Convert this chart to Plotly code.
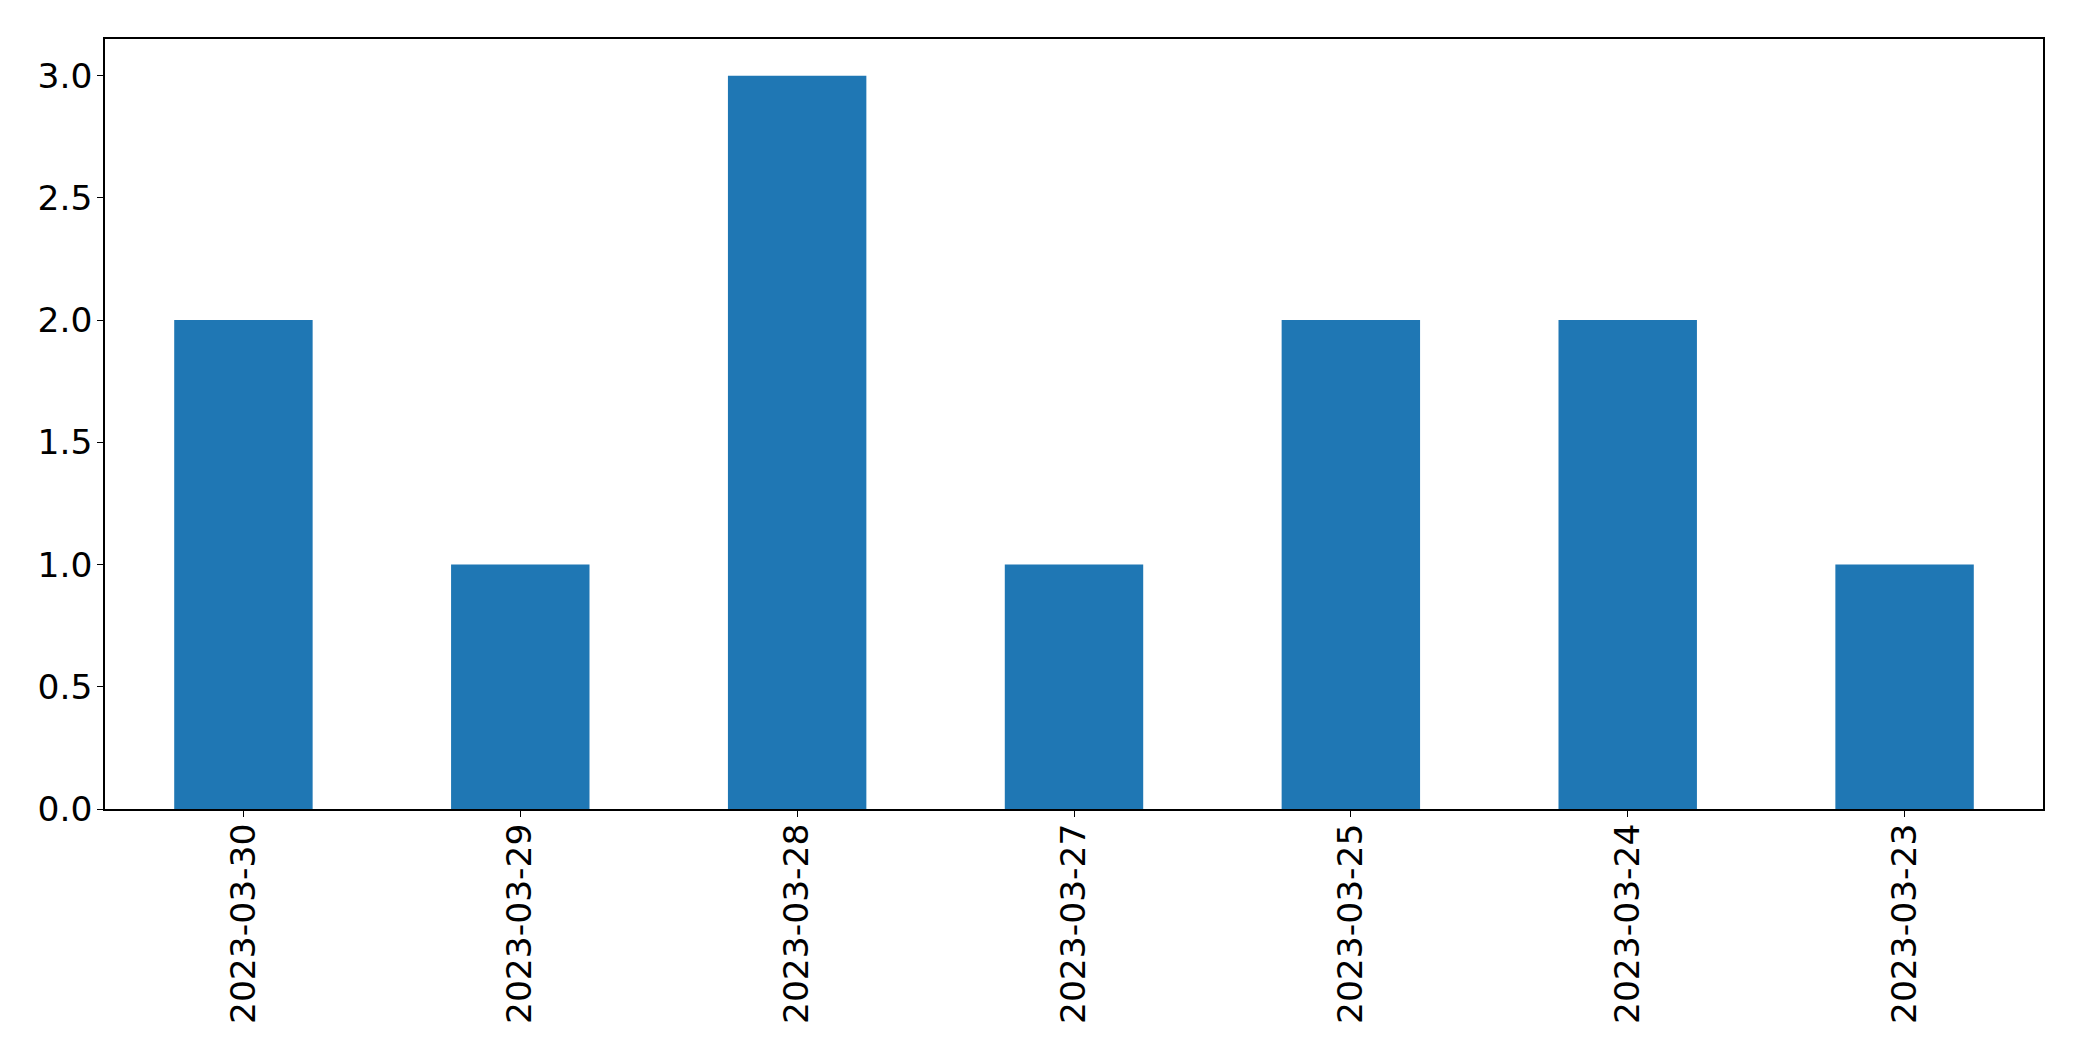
import plotly.graph_objects as go

categories = ["2023-03-30", "2023-03-29", "2023-03-28", "2023-03-27", "2023-03-25", "2023-03-24", "2023-03-23"]
values = [2, 1, 3, 1, 2, 2, 1]
y_ticks = [0.0, 0.5, 1.0, 1.5, 2.0, 2.5, 3.0]
y_tick_labels = ["0.0", "0.5", "1.0", "1.5", "2.0", "2.5", "3.0"]

fig = go.Figure(go.Bar(x=categories, y=values, marker=dict(color="#1f77b4", line=dict(width=0)), width=0.5))

fig.update_layout(
    width=2074, height=1053,
    margin=dict(l=97, r=39, t=31, b=252),
    paper_bgcolor="white", plot_bgcolor="white",
    font=dict(family="DejaVu Sans", size=34.5, color="black"),
    showlegend=False,
    bargap=0.5,
)
fig.update_xaxes(
    type="category", range=[-0.5, 6.5], tickangle=-90,
    showline=True, linecolor="black", linewidth=1.5, mirror=True,
    ticks="outside", ticklen=6, tickcolor="black", tickwidth=1.2,
    showgrid=False, zeroline=False, ticklabelstandoff=-7,
)
fig.update_yaxes(
    range=[0, 3.15], tickvals=y_ticks, ticktext=y_tick_labels,
    showline=True, linecolor="black", linewidth=1.5, mirror=True,
    ticks="outside", ticklen=6, tickcolor="black", tickwidth=1.2,
    showgrid=False, zeroline=False, ticklabelstandoff=-2,
)

fig.write_html("out.html")
